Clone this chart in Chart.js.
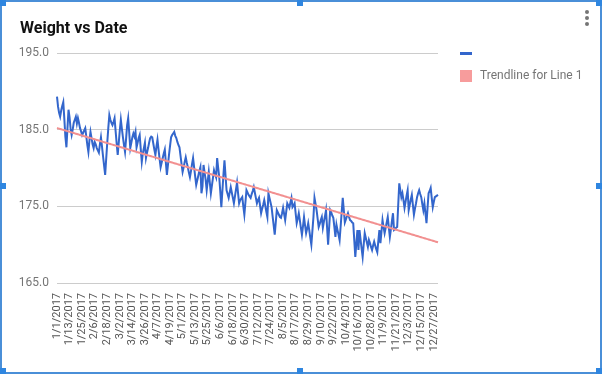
<!DOCTYPE html>
<html>
<head>
<meta charset="utf-8">
<script src="https://cdn.jsdelivr.net/npm/chart.js@4/dist/chart.umd.min.js"></script>
<style>
  html, body { margin: 0; padding: 0; background: #fff; }
  #wrap { position: relative; width: 602px; height: 374px; }
  #frame { position: absolute; left: 0; top: 0; width: 598px; height: 370px; border: 2px solid #4a8fd8; pointer-events: none; }
  .handle { position: absolute; width: 6px; height: 6px; background: #2f86e0; }
</style>
</head>
<body>
<div id="wrap">
  <canvas id="canvas" width="602" height="374"></canvas>
  <div id="frame"></div>
  <div class="handle" style="left:0;top:0"></div>
  <div class="handle" style="left:297px;top:0"></div>
  <div class="handle" style="left:596px;top:0"></div>
  <div class="handle" style="left:0;top:183px"></div>
  <div class="handle" style="left:596px;top:183px"></div>
  <div class="handle" style="left:0;top:368px"></div>
  <div class="handle" style="left:297px;top:368px"></div>
  <div class="handle" style="left:596px;top:368px"></div>
</div>
<script>
// daily weigh-ins, 1/1/2017 .. 12/31/2017
const year = 2017;
const seriesName = '';
const trendName = 'Trendline for Line 1';
const yTicks = [165, 175, 185, 195];
const labelEvery = 12;

const weights = [
  189.3, 188.0, 187.2, 186.7, 187.5, 188.1, 188.6, 186.4, 184.1, 182.7,
  185.2, 187.6, 186.6, 185.1, 184.3, 185.0, 185.9, 186.3, 186.7, 185.8,
  186.5, 185.9, 185.2, 184.8, 184.3, 184.6, 184.9, 185.2, 184.1, 183.0,
  182.1, 183.6, 184.7, 183.9, 183.1, 182.6, 183.4, 183.1, 182.6, 182.3,
  182.0, 183.1, 184.0, 182.8, 181.5, 180.3, 179.1, 181.2, 183.3, 185.2,
  186.9, 186.3, 185.9, 185.6, 186.0, 186.5, 184.8, 183.2, 181.7, 183.3,
  184.9, 186.3, 185.1, 184.0, 183.0, 182.1, 183.8, 185.6, 186.5, 184.6,
  182.6, 183.3, 184.0, 184.5, 184.1, 184.7, 182.7, 183.3, 183.9, 184.3,
  182.5, 180.8, 181.9, 182.6, 183.3, 181.3, 182.0, 182.6, 183.3, 183.9,
  184.1, 184.0, 183.2, 182.4, 181.7, 182.8, 183.7, 182.4, 181.2, 180.1,
  180.7, 181.3, 181.9, 182.4, 180.7, 179.1, 180.4, 181.7, 182.9, 184.0,
  184.3, 184.5, 184.7, 184.2, 183.9, 183.4, 183.0, 182.7, 181.6, 180.5,
  179.5, 180.1, 180.8, 181.4, 180.7, 180.1, 179.4, 178.8, 179.6, 180.5,
  181.3, 180.1, 178.9, 177.8, 178.4, 179.0, 179.6, 180.1, 176.7, 177.6,
  180.4, 179.4, 178.5, 177.1, 178.3, 179.5, 178.1, 176.7, 177.7, 178.7,
  179.7, 179.2, 178.8, 181.3, 180.0, 178.8, 176.9, 174.9, 177.0, 179.1,
  181.0, 179.0, 177.1, 176.6, 176.1, 176.8, 177.5, 176.8, 176.1, 175.4,
  176.3, 177.2, 178.1, 176.7, 175.4, 175.8, 176.0, 176.2, 175.0, 173.9,
  175.5, 177.1, 176.8, 176.5, 176.3, 176.1, 176.6, 177.0, 177.5, 176.8,
  176.1, 175.4, 175.8, 176.1, 175.1, 174.1, 174.7, 175.2, 175.8, 175.1,
  174.3, 173.6, 176.7, 176.1, 175.5, 174.9, 173.7, 172.5, 171.3, 172.9,
  174.5, 174.2, 173.9, 173.6, 173.5, 174.1, 174.8, 174.0, 173.2, 174.3,
  175.4, 175.1, 174.8, 175.5, 176.1, 174.9, 175.1, 175.4, 174.1, 172.8,
  173.4, 174.1, 173.2, 172.2, 171.3, 172.4, 173.6, 172.5, 171.5, 172.1,
  172.8, 171.9, 170.9, 170.0, 171.8, 173.6, 176.1, 175.3, 174.5, 173.4,
  172.3, 172.7, 173.2, 173.6, 172.2, 173.0, 173.7, 174.5, 172.3, 170.0,
  172.2, 174.5, 174.2, 173.8, 173.5, 172.3, 171.0, 172.6, 171.9, 171.3,
  170.6, 172.4, 174.3, 176.1, 174.5, 172.9, 173.3, 173.7, 174.1, 173.6,
  173.2, 173.1, 172.9, 172.8, 170.6, 168.4, 170.2, 171.9, 169.3, 171.9,
  170.7, 169.5, 168.4, 170.0, 171.5, 170.9, 170.3, 169.7, 170.6, 170.2,
  169.7, 169.3, 169.9, 170.4, 169.9, 169.4, 169.0, 170.5, 171.9, 170.2,
  171.7, 173.2, 172.3, 171.5, 172.2, 172.9, 173.6, 172.3, 171.0, 172.0,
  173.1, 174.1, 171.9, 172.0, 172.2, 172.3, 175.2, 178.0, 177.1, 176.2,
  176.7, 175.8, 174.8, 175.6, 176.4, 177.1, 174.5, 175.2, 175.9, 176.5,
  175.2, 173.9, 174.7, 175.4, 176.2, 176.7, 177.1, 176.6, 176.2, 175.3,
  174.5, 175.4, 174.1, 172.8, 174.8, 176.7, 177.0, 177.4, 176.1, 174.9,
  175.6, 176.2, 176.3, 176.4, 176.5
];

const dates = weights.map((w, i) => {
  const d = new Date(year, 0, 1 + i);
  return (d.getMonth() + 1) + '/' + d.getDate() + '/' + d.getFullYear();
});

// least squares line, like the sheets trendline
function trendline(values) {
  const n = values.length;
  let sx = 0, sy = 0, sxy = 0, sxx = 0;
  values.forEach((y, x) => { sx += x; sy += y; sxy += x * y; sxx += x * x; });
  const slope = (n * sxy - sx * sy) / (n * sxx - sx * sx);
  const icpt = (sy - slope * sx) / n;
  return values.map((y, x) => icpt + slope * x);
}

const sheetLegend = {
  id: 'sheetLegend',
  afterDraw(chart) {
    const ctx = chart.ctx;
    ctx.save();
    // title
    ctx.fillStyle = '#111';
    ctx.font = 'bold 16px Roboto';
    ctx.textBaseline = 'alphabetic';
    ctx.fillText('Weight vs Date', 20, 33);
    // legend
    const ds = chart.data.datasets;
    ctx.fillStyle = ds[0].borderColor;
    ctx.fillRect(460, 52, 12, 3);
    ctx.fillStyle = ds[1].legendColor;
    ctx.fillRect(460, 70, 12, 12);
    ctx.fillStyle = '#757575';
    ctx.font = '12px Roboto';
    ctx.textBaseline = 'middle';
    ctx.fillText(ds[0].label, 480, 54);
    ctx.fillText(ds[1].label, 480, 76);
    // menu dots
    ctx.fillStyle = '#757575';
    [12, 18, 24].forEach(y => {
      ctx.beginPath();
      ctx.arc(587, y, 2, 0, Math.PI * 2);
      ctx.fill();
    });
    ctx.restore();
  }
};

var ctx = document.getElementById('canvas').getContext('2d');
var chart = new Chart(ctx, {
  type: 'line',
  data: {
    labels: dates,
    datasets: [
      {
        label: seriesName,
        data: weights,
        borderColor: '#3366cc',
        borderWidth: 2,
        pointRadius: 0,
        tension: 0,
        order: 1
      },
      {
        label: trendName,
        data: trendline(weights),
        borderColor: '#f29090',
        legendColor: '#f79c9c',
        borderWidth: 2,
        pointRadius: 0,
        order: 0
      }
    ]
  },
  options: {
    responsive: false,
    animation: false,
    layout: { padding: { left: 0, top: 53, right: 164, bottom: 0 } },
    plugins: { legend: { display: false }, tooltip: { enabled: false } },
    scales: {
      x: {
        grid: { display: false },
        border: { display: false },
        afterFit: s => { s.height = 91; },
        afterBuildTicks: s => { s.ticks = s.ticks.filter((t, i) => i % labelEvery === 0); },
        ticks: {
          autoSkip: false,
          minRotation: 90,
          maxRotation: 90,
          padding: 2,
          color: '#555',
          font: { family: 'Roboto', size: 11 }
        }
      },
      y: {
        min: yTicks[0],
        max: yTicks[yTicks.length - 1],
        afterFit: s => { s.width = 57; },
        afterBuildTicks: s => { s.ticks = yTicks.map(v => ({ value: v })); },
        grid: { color: '#cccccc', drawTicks: false },
        border: { display: false },
        ticks: {
          padding: 8,
          color: '#757575',
          font: { family: 'Roboto', size: 12 },
          callback: v => v.toFixed(1)
        }
      }
    }
  },
  plugins: [sheetLegend]
});
</script>
</body>
</html>
